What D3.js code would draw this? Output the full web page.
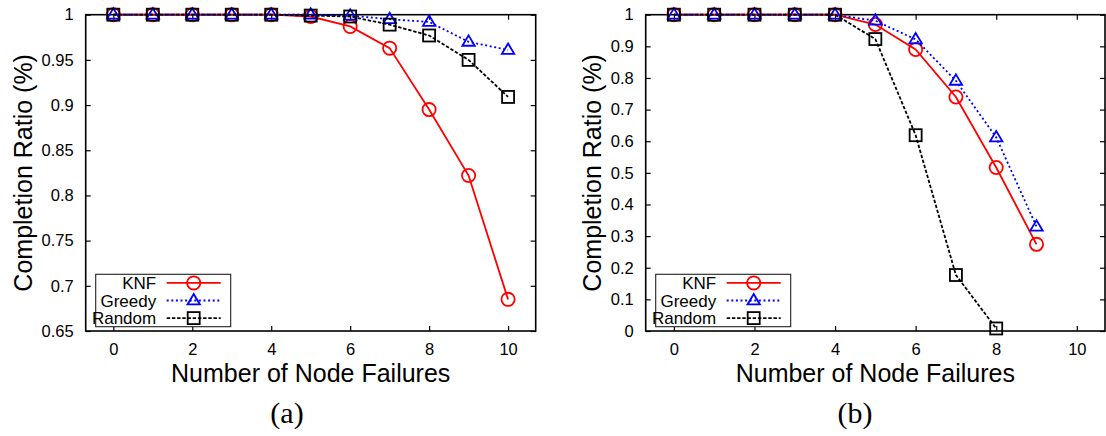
<!DOCTYPE html>
<html>
<head>
<meta charset="utf-8">
<script src="https://cdn.jsdelivr.net/npm/d3@7"></script>
<style>
  html, body { margin: 0; padding: 0; background: #fff; }
  svg { display: block; }
</style>
</head>
<body>
<svg id="chart" width="1106" height="436"></svg>
<script>
// Node-failure experiment: completion ratio for three placement strategies
const seriesNames = ["KNF", "Greedy", "Random"];

// Panel (a)
const failuresA = [0, 1, 2, 3, 4, 5, 6, 7, 8, 9, 10];
const knfA      = [1, 1, 1, 1, 1, 0.998, 0.987, 0.963, 0.895, 0.822, 0.685];
const greedyA   = [1, 1, 1, 1, 1, 1.000, 0.999, 0.995, 0.992, 0.970, 0.961];
const randomA   = [1, 1, 1, 1, 1, 0.999, 0.998, 0.989, 0.977, 0.950, 0.909];
const yTicksA   = [0.65, 0.7, 0.75, 0.8, 0.85, 0.9, 0.95, 1];

// Panel (b)
const failuresB = [0, 1, 2, 3, 4, 5, 6, 7, 8, 9];
const knfB      = [1, 1, 1, 1, 1, 0.969, 0.890, 0.740, 0.517, 0.274];
const greedyB   = [1, 1, 1, 1, 1, 0.981, 0.922, 0.791, 0.612, 0.330];
const failuresBRandom = [0, 1, 2, 3, 4, 5, 6, 7, 8];
const randomB   = [1, 1, 1, 1, 1, 0.923, 0.619, 0.177, 0.008];
const yTicksB   = [0, 0.1, 0.2, 0.3, 0.4, 0.5, 0.6, 0.7, 0.8, 0.9, 1];

const xTicks = [0, 2, 4, 6, 8, 10];
const xTitle = "Number of Node Failures";
const yTitle = "Completion Ratio (%)";

const styles = {
  KNF:    { color: "#ff0000", dash: null,      marker: "circle" },
  Greedy: { color: "#0000ff", dash: "2,2.6",   marker: "triangle" },
  Random: { color: "#000000", dash: "3.4,1.8", marker: "square" }
};

const svg = d3.select("#chart");
const sans = "'Liberation Sans', Arial, Helvetica, sans-serif";

function drawMarker(g, kind, cx, cy, color) {
  if (kind === "circle") {
    g.append("circle").attr("cx", cx).attr("cy", cy).attr("r", 6.6)
      .attr("fill", "none").attr("stroke", color).attr("stroke-width", 1.8);
  } else if (kind === "square") {
    g.append("rect").attr("x", cx - 6).attr("y", cy - 6).attr("width", 12).attr("height", 12)
      .attr("fill", "none").attr("stroke", color).attr("stroke-width", 1.8);
  } else {
    const h = 10.4, w = 12.4;
    g.append("path")
      .attr("d", `M${cx},${cy - h * 0.62}L${cx + w / 2},${cy + h * 0.38}L${cx - w / 2},${cy + h * 0.38}Z`)
      .attr("fill", "none").attr("stroke", color).attr("stroke-width", 1.8);
  }
}

function drawPanel(opts) {
  const { left, right, top, bottom, yDomain, yTicks, series, caption, captionX, yTitleX } = opts;
  const x = d3.scaleLinear().domain([-0.7, 10.7]).range([left, right]);
  const y = d3.scaleLinear().domain(yDomain).range([bottom, top]);
  const g = svg.append("g");
  const fmt = v => String(+v.toFixed(2));

  // Inward ticks on all four sides
  const tickLen = 5;
  g.append("g").attr("transform", `translate(0,${bottom})`)
    .call(d3.axisBottom(x).tickValues(xTicks).tickSize(-tickLen).tickPadding(12).tickFormat(d3.format("d")))
    .call(a => a.select(".domain").remove());
  g.append("g").attr("transform", `translate(0,${top})`)
    .call(d3.axisTop(x).tickValues(xTicks).tickSize(-tickLen).tickFormat(""))
    .call(a => a.select(".domain").remove());
  g.append("g").attr("transform", `translate(${left},0)`)
    .call(d3.axisLeft(y).tickValues(yTicks).tickSize(-tickLen).tickPadding(12).tickFormat(fmt))
    .call(a => a.select(".domain").remove());
  g.append("g").attr("transform", `translate(${right},0)`)
    .call(d3.axisRight(y).tickValues(yTicks).tickSize(-tickLen).tickFormat(""))
    .call(a => a.select(".domain").remove());

  g.selectAll(".tick line").attr("stroke", "#000").attr("stroke-width", 1.2);
  g.selectAll(".tick text").attr("font-family", sans).attr("font-size", 16.5).attr("fill", "#000");

  // Plot frame
  g.append("rect").attr("x", left).attr("y", top)
    .attr("width", right - left).attr("height", bottom - top)
    .attr("fill", "none").attr("stroke", "#000").attr("stroke-width", 1.6);

  // Series lines and markers
  const line = d3.line().x(d => x(d[0])).y(d => y(d[1]));
  series.forEach(s => {
    const st = styles[s.name];
    const pts = s.xs.map((v, i) => [v, s.ys[i]]);
    g.append("path").datum(pts).attr("d", line)
      .attr("fill", "none").attr("stroke", st.color).attr("stroke-width", 1.8)
      .attr("stroke-dasharray", st.dash);
    const mg = g.append("g");
    pts.forEach(p => drawMarker(mg, st.marker, x(p[0]), y(p[1]), st.color));
  });

  // Legend
  const lx = left + 10, ly = 274.3, lw = 135, lh = 52.4;
  const lg = g.append("g");
  lg.append("rect").attr("x", lx).attr("y", ly).attr("width", lw).attr("height", lh)
    .attr("fill", "#fff").attr("stroke", "#222").attr("stroke-width", 1.1);
  seriesNames.forEach((name, i) => {
    const st = styles[name];
    const ry = ly + 8.6 + i * 17.6;
    lg.append("text").attr("x", lx + 60.5).attr("y", ry).attr("dy", "0.36em")
      .attr("text-anchor", "end").attr("font-family", sans).attr("font-size", 17)
      .text(name);
    lg.append("line").attr("x1", lx + 71).attr("x2", lx + 125).attr("y1", ry).attr("y2", ry)
      .attr("stroke", st.color).attr("stroke-width", 1.8).attr("stroke-dasharray", st.dash);
    drawMarker(lg, st.marker, lx + 98, ry, st.color);
  });

  // Axis titles
  g.append("text").attr("x", (left + right) / 2).attr("y", 382)
    .attr("text-anchor", "middle").attr("font-family", sans).attr("font-size", 25)
    .text(xTitle);
  g.append("text")
    .attr("transform", `translate(${yTitleX},${(top + bottom) / 2}) rotate(-90)`)
    .attr("text-anchor", "middle").attr("font-family", sans).attr("font-size", 25)
    .text(yTitle);

  // Sub-figure caption
  g.append("text").attr("x", captionX).attr("y", 423)
    .attr("text-anchor", "middle").attr("font-family", "'Liberation Serif', 'DejaVu Serif', serif")
    .attr("font-size", 30).text(caption);
}

drawPanel({
  left: 85.7, right: 535.7, top: 14.7, bottom: 331,
  yDomain: [0.65, 1], yTicks: yTicksA,
  series: [
    { name: "KNF", xs: failuresA, ys: knfA },
    { name: "Greedy", xs: failuresA, ys: greedyA },
    { name: "Random", xs: failuresA, ys: randomA }
  ],
  caption: "(a)", captionX: 287, yTitleX: 32
});

drawPanel({
  left: 645.7, right: 1105, top: 14.7, bottom: 331,
  yDomain: [0, 1], yTicks: yTicksB,
  series: [
    { name: "KNF", xs: failuresB, ys: knfB },
    { name: "Greedy", xs: failuresB, ys: greedyB },
    { name: "Random", xs: failuresBRandom, ys: randomB }
  ],
  caption: "(b)", captionX: 855, yTitleX: 601
});
</script>
</body>
</html>
